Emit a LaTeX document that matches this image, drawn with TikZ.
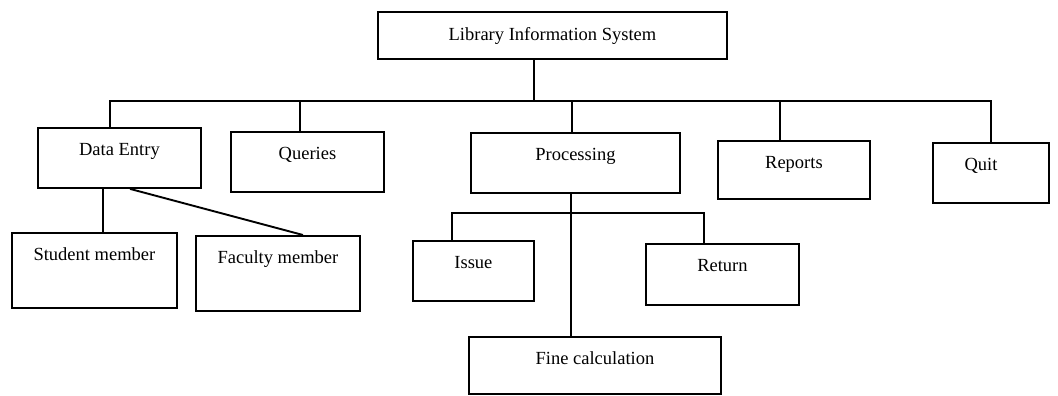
\documentclass[tikz,border=0pt]{standalone}
\usepackage{fontspec}
\setmainfont{Liberation Serif}
\newcommand{\lisfont}{\fontsize{18.5}{22}\selectfont}
\tikzset{
  box/.style={draw, line width=1.9pt, inner sep=0pt, anchor=north west,
              font=\lisfont, text height=28pt, align=center},
  conn/.style={line width=1.9pt}
}
\begin{document}
\begin{tikzpicture}[x=1pt,y=-1pt]
\useasboundingbox (0,0) rectangle (1058,396);
% top
\node[box, minimum width=349pt, text height=29pt, text depth=18pt] (lis) at (377,11) {Library Information System};
% level 2
\node[box, minimum width=163pt, text depth=32pt] (de) at (37,127) {Data Entry};
\node[box, minimum width=153pt, text depth=32pt] (q) at (230,131) {Queries};
\node[box, minimum width=209pt, text depth=32pt] (p) at (470,132) {Processing};
\node[box, minimum width=152pt, text depth=30pt] (r) at (717,140) {Reports};
\node[box, minimum width=116pt, text depth=32pt] (quit) at (932,142) {\hspace*{-20pt}Quit};
% level 3
\node[box, minimum width=165pt, text depth=47pt] (sm) at (11,232) {Student member};
\node[box, minimum width=164pt, text depth=47pt] (fm) at (195,235) {Faculty member};
\node[box, minimum width=121pt, text depth=32pt] (iss) at (412,240) {Issue};
\node[box, minimum width=153pt, text depth=33pt] (ret) at (645,243) {Return};
\node[box, minimum width=252pt, text depth=29pt] (fc) at (468,336) {Fine calculation};
% bus
\coordinate (t0) at (534,101);
\coordinate (b1) at (110,101);
\coordinate (b2) at (300,101);
\coordinate (b3) at (572,101);
\coordinate (b4) at (780,101);
\coordinate (b5) at (991,101);
\draw[conn] (t0 |- lis.south) -- (t0);
\draw[conn] (b1 |- de.north) -- (b1) -- (b5) -- (b5 |- quit.north);
\draw[conn] (b2) -- (b2 |- q.north);
\draw[conn] (b3) -- (b3 |- p.north);
\draw[conn] (b4) -- (b4 |- r.north);
% data entry children
\coordinate (d1) at (103,0);
\coordinate (d2) at (130,0);
\coordinate (d3) at (303,0);
\draw[conn] (d1 |- de.south) -- (d1 |- sm.north);
\draw[conn] (d2 |- de.south) -- (d3 |- fm.north);
% processing children
\coordinate (pv) at (571,0);
\coordinate (pl) at (452,213);
\coordinate (pr) at (704,213);
\draw[conn] (pv |- p.south) -- (pv |- fc.north);
\draw[conn] (pl |- iss.north) -- (pl) -- (pr) -- (pr |- ret.north);
\end{tikzpicture}
\end{document}
